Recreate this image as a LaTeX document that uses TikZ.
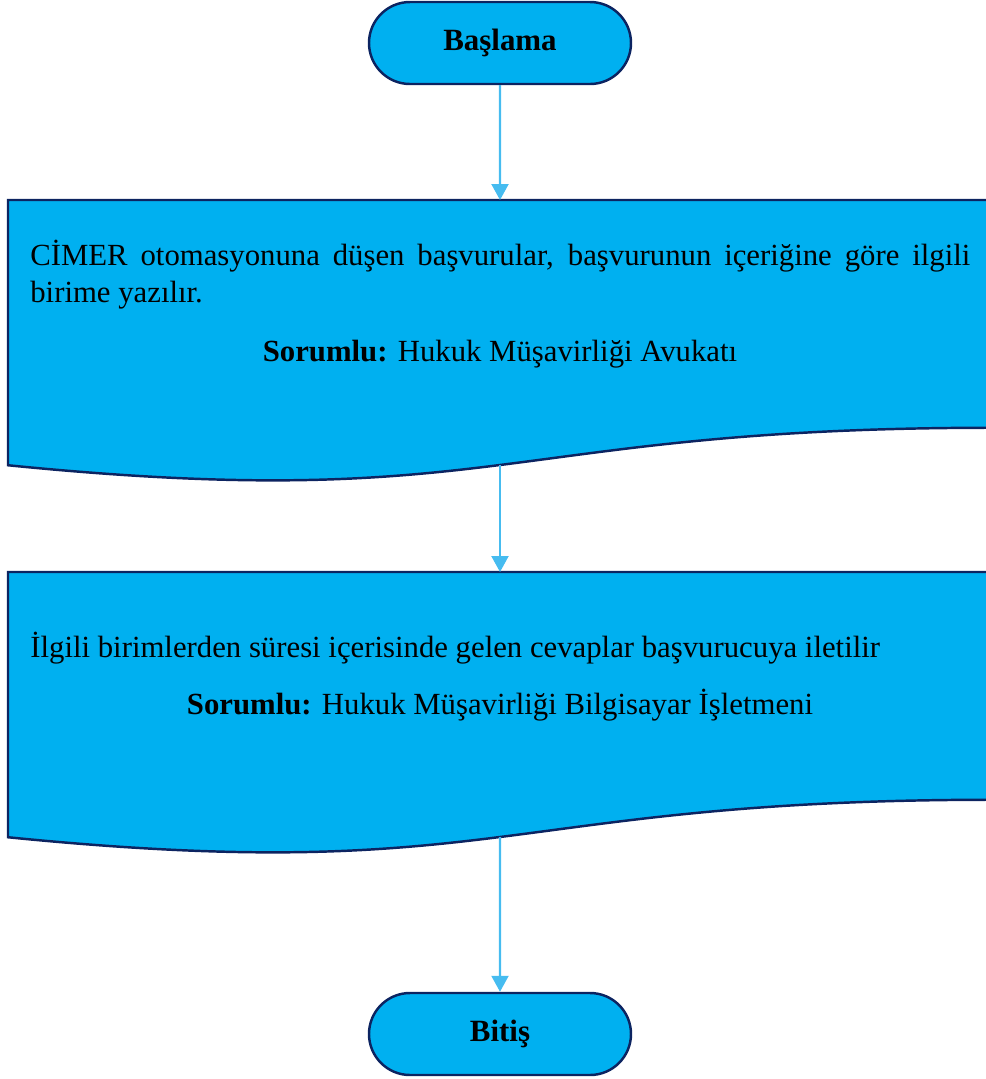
\documentclass[tikz,border=0pt]{standalone}
\usepackage{fontspec}
\setmainfont{Liberation Serif}
\usetikzlibrary{arrows.meta}
\definecolor{boxblue}{RGB}{0,176,240}
\definecolor{navy}{RGB}{12,36,97}
\definecolor{lineblue}{RGB}{70,188,240}

\begin{document}
\begin{tikzpicture}[
  terminal/.style={draw=navy, fill=boxblue, line width=1.4pt, rounded corners=.82cm,
    minimum width=5.24cm, minimum height=1.64cm, font=\bfseries\fontsize{17.6}{20}\selectfont},
  docbox/.style={draw=navy, fill=boxblue, line width=1.4pt},
  txt/.style={inner sep=0pt, font=\fontsize{17.5}{21.6}\selectfont},
  flow/.style={draw=lineblue, line width=1.2pt, -{Triangle[length=.32cm, width=.34cm]}}]
  \useasboundingbox (0,0) rectangle (19.72,-21.58);

  \node (start) [terminal] at (10cm, -.86cm) {Başlama};
  \node (end) [terminal] at (10cm, -20.68cm) {Bitiş};

  % document boxes
  \draw [docbox] (.16,-4) -- (19.86,-4) -- (19.86,-8.555)
    .. controls (10.01,-8.555) and (10.01,-10.288) .. (.16,-9.305) -- cycle;
  \coordinate (doc1top) at (10,-4);
  \coordinate (doc1bot) at (10,-9.30);
  \draw [docbox] (.16,-11.44) -- (19.86,-11.44) -- (19.86,-15.995)
    .. controls (10.01,-15.995) and (10.01,-17.728) .. (.16,-16.745) -- cycle;
  \coordinate (doc2top) at (10,-11.44);
  \coordinate (doc2bot) at (10,-16.74);

  \node (doc1txt) [txt, anchor=base west, text width=18.8cm, align=justify] at (.6,-5.30)
    {CİMER otomasyonuna düşen başvurular, başvurunun içeriğine göre ilgili\linebreak birime yazılır.};
  \node (doc1resp) [txt, anchor=base] at (10,-7.22) {\textbf{Sorumlu:} Hukuk Müşavirliği Avukatı};
  \node (doc2txt) [txt, anchor=base west] at (.6,-13.14)
    {İlgili birimlerden süresi içerisinde gelen cevaplar başvurucuya iletilir};
  \node (doc2resp) [txt, anchor=base] at (10,-14.28) {\textbf{Sorumlu:} Hukuk Müşavirliği Bilgisayar İşletmeni};

  \draw [flow] (start) -- (doc1top);
  \draw [flow] (doc1bot) -- (doc2top);
  \draw [flow] (doc2bot) -- (end);
\end{tikzpicture}
\end{document}
